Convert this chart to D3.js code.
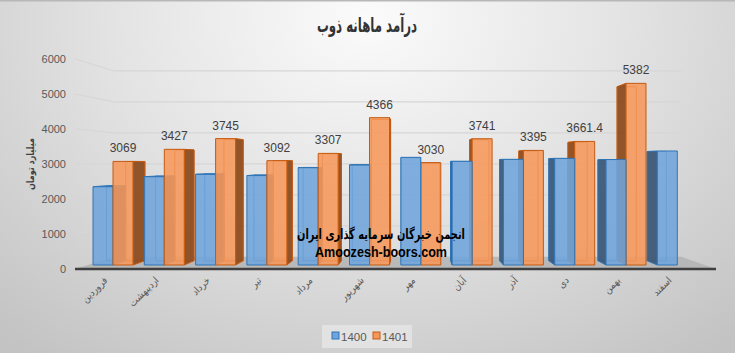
<!DOCTYPE html>
<html>
<head>
<meta charset="utf-8">
<script src="https://cdn.jsdelivr.net/npm/d3@7"></script>
<style>
body { margin: 0; padding: 0; overflow: hidden; }
</style>
</head>
<body>
<script>
// monthly revenue chart, fake 3d columns

var months = ["فروردین", "اردیبهشت", "خرداد", "تیر", "مرداد", "شهریور", "مهر", "آبان", "آذر", "دی", "بهمن", "اسفند"];
var v1400 = [2320, 2617, 2686, 2650, 2884, 2963, 3190, 3072, 3131, 3160, 3125, 3378];
var v1401 = [3069, 3427, 3745, 3092, 3307, 4366, 3030, 3741, 3395, 3661.4, 5382, null];
var series = ["1400", "1401"];
var yTicks = [0, 1000, 2000, 3000, 4000, 5000, 6000];

var W = 735, H = 353;
var svg = d3.select("body").append("svg").attr("width", W).attr("height", H);

var defs = svg.append("defs");
var bg = defs.append("radialGradient").attr("id", "bg")
    .attr("cx", "50%").attr("cy", "5%").attr("r", "75%")
    .attr("gradientTransform", "translate(0.5 0.05) scale(1 1.6) translate(-0.5 -0.05)");
bg.append("stop").attr("offset", "0%").attr("stop-color", "#fbfbfb");
bg.append("stop").attr("offset", "45%").attr("stop-color", "#e4e4e4");
bg.append("stop").attr("offset", "100%").attr("stop-color", "#c3c3c3");

svg.append("rect").attr("width", W).attr("height", H).style("fill", "url(#bg)");
svg.append("line").attr("x1", 0).attr("x2", W).attr("y1", 0.5).attr("y2", 0.5)
    .style("stroke", "#b8b8b8").style("stroke-width", 2);

// perspective helpers
var vx = 415, vy = 163;
function P(x, y, s) { return [vx + s * (x - vx), vy + s * (y - vy)]; }
var wallS = 0.885, barS = 0.958;
var leftX = 75, rightX = 716;

var yFront = d3.scaleLinear().domain([0, 6000]).range([269, 59]);
var yBar = d3.scaleLinear().domain([0, 6000]).range([265, 62.5]);
var x = d3.scaleBand().domain(months).range([87.35, 87.35 + 51.3 * 12]);
var bw = 20;

// floor
var fl = [[leftX, 269], [rightX, 269], P(rightX, 269, wallS), P(leftX, 269, wallS)];
svg.append("polygon").attr("points", fl.map(function (p) { return p.join(","); }).join(" "))
    .style("fill", "#b3b3b3").style("opacity", 0.85);

// gridlines
for (var i = 1; i < yTicks.length; i++) {
    var yy = yFront(yTicks[i]);
    var a = P(leftX, yy, wallS), b = P(rightX, yy, wallS);
    svg.append("polyline")
        .attr("points", [leftX, yy].join(",") + " " + a.join(",") + " " + [b[0], a[1]].join(","))
        .style("fill", "none").style("stroke", "#d6d6d6").style("stroke-width", 1.2);
}

// y axis labels
svg.selectAll(".ytick").data(yTicks).enter().append("text")
    .attr("x", 66).attr("y", function (d) { return yFront(d) + 4; })
    .attr("text-anchor", "end")
    .style("font-family", "Liberation Sans, Arial, sans-serif").style("font-size", "11px")
    .style("fill", "#595959")
    .text(function (d) { return d; });

// build bars
var bars = [];
for (var i = 0; i < months.length; i++) {
    var x0 = x(months[i]) + (x.bandwidth() - 2 * bw) / 2;
    if (v1400[i] != null) bars.push({ s: 0, v: v1400[i], x0: x0, x1: x0 + bw });
    if (v1401[i] != null) bars.push({ s: 1, v: v1401[i], x0: x0 + bw, x1: x0 + 2 * bw });
}
bars.sort(function (a, b) {
    return Math.abs((b.x0 + b.x1) / 2 - vx) - Math.abs((a.x0 + a.x1) / 2 - vx);
});

var colors = {
    front: ["#6fa5dc", "#f6975a"],
    edge: ["#2f75b5", "#c55a11"],
    side: ["#3d5877", "#8d4d1f"],
    top: ["#8ab8e6", "#f8ae7a"]
};

function poly(pts, fill, stroke, op) {
    svg.append("polygon").attr("points", pts.map(function (p) { return p.join(","); }).join(" "))
        .style("fill", fill).style("fill-opacity", op == null ? 1 : op)
        .style("stroke", stroke).style("stroke-width", 1).style("stroke-linejoin", "round");
}

var floorY = yBar(0);
bars.forEach(function (d) {
    var yt = yBar(d.v);
    var A = [d.x0, yt], B = [d.x1, yt], C = [d.x1, floorY], D = [d.x0, floorY];
    var A2 = P(A[0], A[1], barS), B2 = P(B[0], B[1], barS), C2 = P(C[0], C[1], barS), D2 = P(D[0], D[1], barS);
    // back edges seen through
    poly([A2, B2, C2, D2], "none", colors.edge[d.s], 1);
    if (d.x1 < vx) poly([B, C, C2, B2], colors.side[d.s], colors.edge[d.s], 0.95);
    else if (d.x0 > vx) poly([A, D, D2, A2], colors.side[d.s], colors.edge[d.s], 0.95);
    if (A2[1] < A[1]) poly([A, B, B2, A2], colors.top[d.s], colors.edge[d.s], 1);
    poly([A, B, C, D], colors.front[d.s], colors.edge[d.s], 0.88);
});

// floor front edge
svg.append("line").attr("x1", leftX).attr("x2", rightX).attr("y1", 269).attr("y2", 269)
    .style("stroke", "#3f3f3f").style("stroke-width", 2.5);

// value labels 1401
months.forEach(function (m, i) {
    if (v1401[i] == null) return;
    var cx = x(m) + (x.bandwidth() - 2 * bw) / 2 + bw * 1.5;
    svg.append("text").attr("x", cx).attr("y", yBar(v1401[i]) - 9)
        .attr("text-anchor", "middle")
        .style("font-family", "Liberation Sans, Arial, sans-serif").style("font-size", "12px")
        .style("fill", "#404040")
        .text(v1401[i]);
});

// x labels
months.forEach(function (m) {
    var cx = x(m) + x.bandwidth() / 2;
    svg.append("text")
        .attr("transform", "translate(" + (cx - 5) + ",281) rotate(-45)")
        .attr("text-anchor", "end")
        .style("font-family", "DejaVu Sans Condensed, DejaVu Sans, sans-serif").style("font-size", "10px")
        .style("fill", "#595959")
        .text(m);
});

// title
svg.append("text").attr("x", 367).attr("y", 32).attr("text-anchor", "middle")
    .attr("textLength", 100).attr("lengthAdjust", "spacingAndGlyphs")
    .style("font-family", "DejaVu Sans Condensed, DejaVu Sans, sans-serif").style("font-size", "20px")
    .style("font-weight", "bold").style("fill", "#333333")
    .text("درآمد ماهانه ذوب");

// y title
svg.append("text").attr("transform", "translate(34,164) rotate(-90)")
    .attr("text-anchor", "middle")
    .attr("textLength", 52).attr("lengthAdjust", "spacingAndGlyphs")
    .style("font-family", "DejaVu Sans Condensed, DejaVu Sans, sans-serif").style("font-size", "10px")
    .style("font-weight", "bold").style("fill", "#404040")
    .text("میلیارد تومان");

// watermark
svg.append("text").attr("x", 381).attr("y", 239).attr("text-anchor", "middle")
    .attr("textLength", 168).attr("lengthAdjust", "spacingAndGlyphs")
    .style("font-family", "DejaVu Sans Condensed, DejaVu Sans, sans-serif").style("font-size", "14px")
    .style("font-weight", "bold").style("fill", "#000")
    .text("انجمن خبرگان سرمایه گذاری ایران");
svg.append("text").attr("x", 381).attr("y", 257).attr("text-anchor", "middle")
    .attr("textLength", 132).attr("lengthAdjust", "spacingAndGlyphs")
    .style("font-family", "Liberation Sans, Arial, sans-serif").style("font-size", "14px")
    .style("font-weight", "bold").style("fill", "#000")
    .text("Amoozesh-boors.com");

// legend
var lg = svg.append("g");
lg.append("rect").attr("x", 322).attr("y", 325).attr("width", 90).attr("height", 23)
    .style("fill", "#e6e6e6").style("opacity", 0.8);
series.forEach(function (s, i) {
    var lx = 332 + i * 41;
    lg.append("rect").attr("x", lx).attr("y", 332).attr("width", 7).attr("height", 7)
        .style("fill", colors.front[i]).style("stroke", colors.edge[i]);
    lg.append("text").attr("x", lx + 9).attr("y", 340.5)
        .style("font-family", "Liberation Sans, Arial, sans-serif").style("font-size", "11.5px")
        .style("fill", "#595959")
        .text(s);
});
</script>
</body>
</html>
